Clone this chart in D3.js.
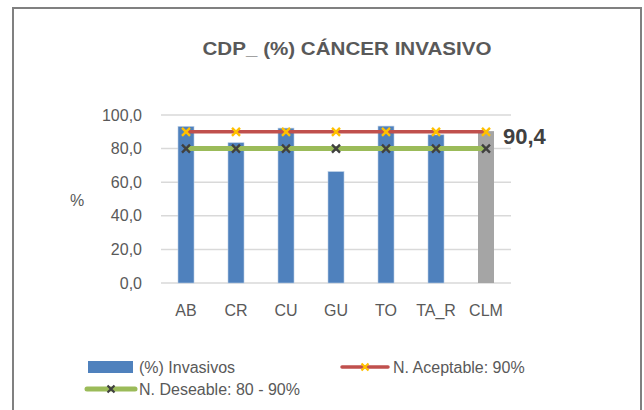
<!DOCTYPE html>
<html>
<head>
<meta charset="utf-8">
<script src="https://cdn.jsdelivr.net/npm/d3@7"></script>
<style>
  body { margin: 0; background: #fff; }
  text { font-family: "Liberation Sans", Arial, sans-serif; fill: #595959; }
</style>
</head>
<body>
<div id="chart"></div>
<script>
// chart data
const categories = ['AB', 'CR', 'CU', 'GU', 'TO', 'TA_R', 'CLM'];
const invasivos = [93.2, 83.5, 92.2, 66.3, 93.4, 88.2, 90.4];
const aceptable = [90, 90, 90, 90, 90, 90, 90];
const deseable = [80, 80, 80, 80, 80, 80, 80];
const yTicks = [0, 20, 40, 60, 80, 100];

const width = 644, height = 410;
const fmt = v => d3.format('.1f')(v).replace('.', ',');

const svg = d3.select('#chart')
  .append('svg')
  .attr('width', width)
  .attr('height', height);

// outer frame
svg.append('rect')
  .attr('x', 13).attr('y', 8)
  .attr('width', 628).attr('height', 420)
  .attr('fill', 'none')
  .attr('stroke', '#808080')
  .attr('stroke-width', 2);

// title
svg.append('text')
  .attr('x', 347).attr('y', 55)
  .attr('text-anchor', 'middle')
  .attr('textLength', 289)
  .attr('lengthAdjust', 'spacingAndGlyphs')
  .style('font-family', '"Liberation Sans Narrow", "Liberation Sans", Arial, sans-serif')
  .style('font-weight', 'bold')
  .style('font-size', '19px')
  .text('CDP_ (%) CÁNCER INVASIVO');

const x = d3.scaleBand()
  .domain(categories)
  .range([161, 511])
  .paddingInner(0.68)
  .paddingOuter(0.34);

const y = d3.scaleLinear()
  .domain([0, 100])
  .range([283, 115]);

const cx = d => x(d) + x.bandwidth() / 2;

// gridlines
svg.append('g')
  .selectAll('line')
  .data(yTicks)
  .enter()
  .append('line')
  .attr('x1', 161).attr('x2', 511)
  .attr('y1', d => y(d)).attr('y2', d => y(d))
  .attr('stroke', '#D9D9D9')
  .attr('stroke-width', 1.5);

// y tick labels
svg.append('g')
  .selectAll('text')
  .data(yTicks)
  .enter()
  .append('text')
  .attr('x', 142)
  .attr('y', d => y(d))
  .attr('dy', '0.35em')
  .attr('text-anchor', 'end')
  .style('font-size', '16px')
  .text(fmt);

svg.append('text')
  .attr('x', 77).attr('y', 200)
  .attr('dy', '0.35em')
  .attr('text-anchor', 'middle')
  .style('font-size', '16px')
  .text('%');

// x labels
svg.append('g')
  .selectAll('text')
  .data(categories)
  .enter()
  .append('text')
  .attr('x', cx)
  .attr('y', 316)
  .attr('text-anchor', 'middle')
  .style('font-size', '16px')
  .text(d => d);

// bars
svg.append('g')
  .selectAll('rect')
  .data(categories)
  .enter()
  .append('rect')
  .attr('x', d => x(d))
  .attr('width', x.bandwidth())
  .attr('y', (d, i) => y(invasivos[i]))
  .attr('height', (d, i) => y(0) - y(invasivos[i]))
  .attr('fill', d => d === 'CLM' ? '#A5A5A5' : '#4F81BD')
  .attr('stroke', d => d === 'CLM' ? 'none' : '#B9CDE5')
  .attr('stroke-width', 0.6);

// data label for CLM
svg.append('text')
  .attr('x', 503)
  .attr('y', 144)
  .style('font-size', '22px')
  .style('font-weight', 'bold')
  .style('fill', '#404040')
  .text(fmt(invasivos[invasivos.length - 1]));

// cross marker path
const cross = (s) => `M${-s},${-s}L${s},${s}M${-s},${s}L${s},${-s}`;

function drawSeries(values, lineColor, lineWidth, markColor) {
  const line = d3.line()
    .x((d, i) => cx(categories[i]))
    .y(d => y(d));
  svg.append('path')
    .datum(values)
    .attr('d', line)
    .attr('fill', 'none')
    .attr('stroke', lineColor)
    .attr('stroke-width', lineWidth);
  svg.append('g')
    .selectAll('path')
    .data(values)
    .enter()
    .append('path')
    .attr('transform', (d, i) => `translate(${cx(categories[i])},${y(d)})`)
    .attr('d', cross(4))
    .attr('stroke', markColor)
    .attr('stroke-width', 2.4);
}

drawSeries(deseable, '#9BBB59', 5, '#404040');
drawSeries(aceptable, '#C0504D', 3.5, '#FFC000');

// legend
const legend = svg.append('g');
legend.append('rect')
  .attr('x', 88).attr('y', 361)
  .attr('width', 45).attr('height', 12)
  .attr('fill', '#4F81BD');
legend.append('text')
  .attr('x', 139).attr('y', 373)
  .style('font-size', '16px')
  .text('(%) Invasivos');

legend.append('line')
  .attr('x1', 342).attr('x2', 388)
  .attr('y1', 367).attr('y2', 367)
  .attr('stroke', '#C0504D')
  .attr('stroke-width', 3.5)
  .attr('stroke-linecap', 'round');
legend.append('path')
  .attr('transform', 'translate(365,367)')
  .attr('d', cross(3.5))
  .attr('stroke', '#FFC000')
  .attr('stroke-width', 2.2);
legend.append('text')
  .attr('x', 393).attr('y', 373)
  .style('font-size', '16px')
  .text('N. Aceptable: 90%');

legend.append('line')
  .attr('x1', 87).attr('x2', 135)
  .attr('y1', 389).attr('y2', 389)
  .attr('stroke', '#9BBB59')
  .attr('stroke-width', 5)
  .attr('stroke-linecap', 'round');
legend.append('path')
  .attr('transform', 'translate(111,389)')
  .attr('d', cross(3.5))
  .attr('stroke', '#404040')
  .attr('stroke-width', 2.2);
legend.append('text')
  .attr('x', 139).attr('y', 395)
  .style('font-size', '16px')
  .text('N. Deseable: 80 - 90%');
</script>
</body>
</html>
